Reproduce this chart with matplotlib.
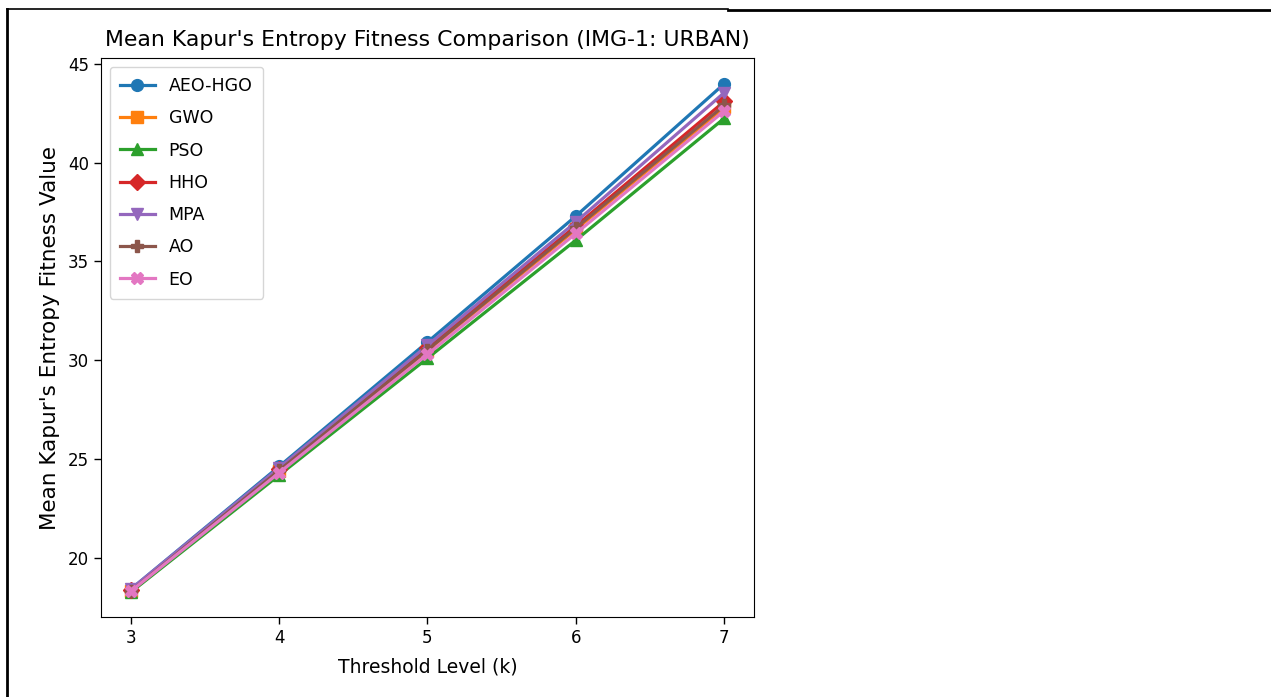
import matplotlib
matplotlib.use("Agg")
import matplotlib.pyplot as plt
from matplotlib.lines import Line2D

thresholds = [3, 4, 5, 6, 7]
aeo_hgo = [18.40, 24.62, 30.92, 37.30, 44.00]
gwo = [18.30, 24.40, 30.48, 36.62, 42.80]
pso = [18.25, 24.18, 30.10, 36.08, 42.25]
hho = [18.35, 24.48, 30.62, 36.80, 43.10]
mpa = [18.40, 24.55, 30.75, 37.00, 43.55]
ao = [18.30, 24.42, 30.52, 36.70, 42.90]
eo = [18.30, 24.30, 30.30, 36.42, 42.62]

series = [
    ("AEO-HGO", aeo_hgo, "o", "#1f77b4"),
    ("GWO", gwo, "s", "#ff7f0e"),
    ("PSO", pso, "^", "#2ca02c"),
    ("HHO", hho, "D", "#d62728"),
    ("MPA", mpa, "v", "#9467bd"),
    ("AO", ao, "P", "#8c564b"),
    ("EO", eo, "X", "#e377c2"),
]

W, H = 1271, 697
fig = plt.figure(figsize=(W / 100, H / 100), dpi=100)
ax = fig.add_axes([101 / W, 1 - 617 / H, (754 - 101) / W, (617 - 58) / H])

for name, vals, mk, col in series:
    ax.plot(thresholds, vals, marker=mk, color=col, label=name,
            linewidth=2.3, markersize=8.5)

ax.set_xticks(thresholds)
ax.set_ylim(17.0, 45.3)
ax.tick_params(labelsize=12, length=5, width=1)
ax.set_title("Mean Kapur's Entropy Fitness Comparison (IMG-1: URBAN)",
             fontsize=15.8, pad=9)
ax.set_xlabel("Threshold Level (k)", fontsize=13.5, labelpad=8)
ax.set_ylabel("Mean Kapur's Entropy Fitness Value", fontsize=15.5, labelpad=6)
ax.legend(loc="upper left", fontsize=12.5, labelspacing=0.82,
          handlelength=2.0, borderpad=0.6)

# page/table border lines
fig.add_artist(Line2D([7 / W, 7 / W], [0, 1 - 9 / H], transform=fig.transFigure,
                      color="black", linewidth=2))
fig.add_artist(Line2D([7 / W, 728 / W], [1 - 9 / H, 1 - 9 / H], transform=fig.transFigure,
                      color="black", linewidth=1.2))
fig.add_artist(Line2D([728 / W, 1], [1 - 10 / H, 1 - 10 / H], transform=fig.transFigure,
                      color="black", linewidth=2))

fig.savefig("out.png", dpi=100)
